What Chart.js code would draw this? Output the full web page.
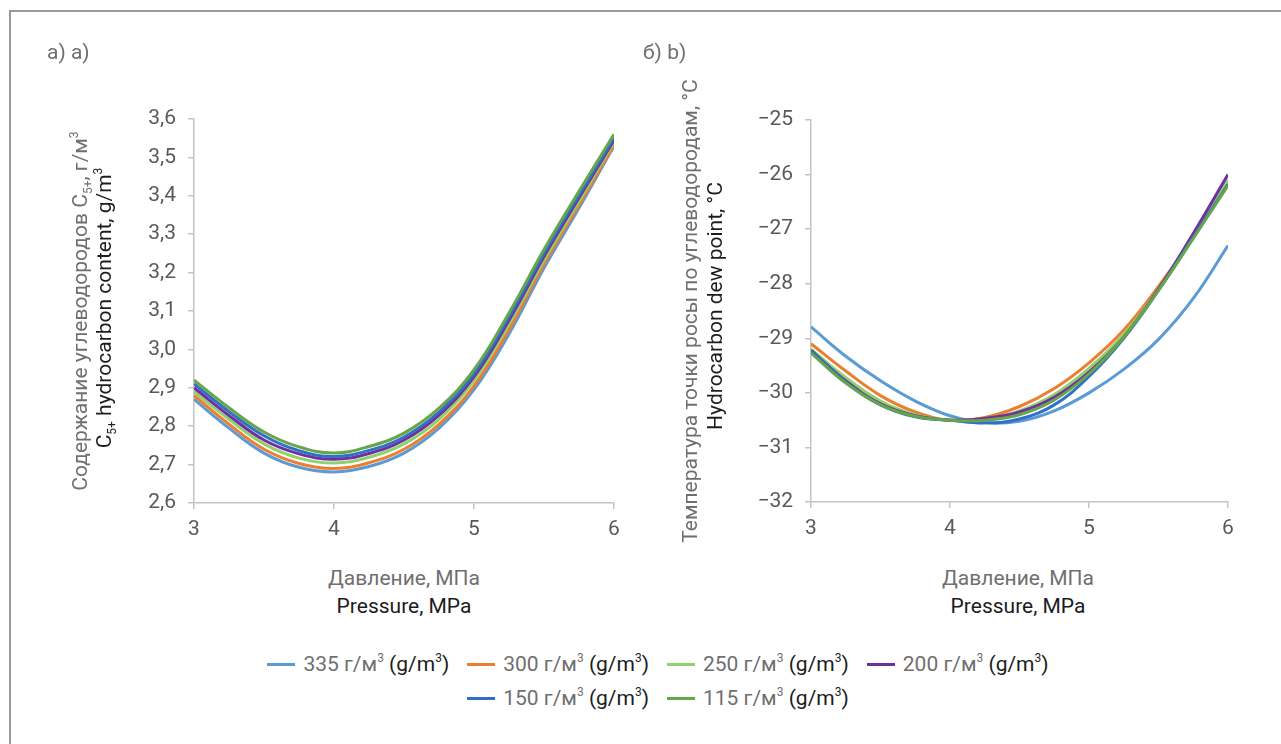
<!DOCTYPE html>
<html>
<head>
<meta charset="utf-8">
<script src="https://cdn.jsdelivr.net/npm/chart.js@4.4.1/dist/chart.umd.min.js"></script>
<style>
  html, body { margin: 0; padding: 0; background: #fff; }
  body { width: 1281px; height: 744px; position: relative; overflow: hidden; font-family: Roboto, sans-serif; font-size: 21px; }
  .frame { position: absolute; left: 9px; top: 10px; right: -5px; bottom: -5px; border-top: 2px solid #9a9a9a; border-left: 2px solid #9a9a9a; }
  canvas { position: absolute; top: 0; }
  .txt { position: absolute; white-space: nowrap; line-height: 1; }
  .g { color: #6f6f6f; }
  .k { color: #1c1c1c; }
  .rot { transform: translate(-50%, -50%) rotate(-90deg); }
  .hc { transform: translate(-50%, -50%); }
  sup, sub { font-size: 12px; line-height: 0; position: relative; vertical-align: baseline; }
  sup { top: -0.75em; }
  sub { top: 0.45em; }
  .legend-row { position: absolute; left: 0; width: 1316px; display: flex; justify-content: center; gap: 18px; white-space: nowrap; }
  .item { display: flex; align-items: center; }
  .sw { display: inline-block; width: 28px; height: 3px; margin-right: 8px; }
</style>
</head>
<body>
<div class="frame"></div>
<canvas id="contentChart" width="640" height="560" style="left:0"></canvas>
<canvas id="dewChart" width="641" height="560" style="left:640px"></canvas>

<div class="txt g" style="left:47px; top:42px">a) a)</div>
<div class="txt g" style="left:643px; top:42px">б) b)</div>

<div class="txt g rot" style="left:80px; top:311px">Содержание углеводородов C<sub>5+</sub>, г/м<sup>3</sup></div>
<div class="txt k rot" style="left:104px; top:308px">C<sub>5+</sub> hydrocarbon content, g/m<sup>3</sup></div>
<div class="txt g hc" style="left:404px; top:578px">Давление, МПа</div>
<div class="txt k hc" style="left:404px; top:606px">Pressure, MPa</div>

<div class="txt g rot" style="left:690px; top:311px">Температура точки росы по углеводородам, °C</div>
<div class="txt k rot" style="left:715px; top:306px">Hydrocarbon dew point, °C</div>
<div class="txt g hc" style="left:1018px; top:578px">Давление, МПа</div>
<div class="txt k hc" style="left:1018px; top:606px">Pressure, MPa</div>

<div class="legend-row" id="legendRow1" style="top:652px"></div>
<div class="legend-row" id="legendRow2" style="top:686px"></div>

<script>
// pressure grid, MPa
const pressure = [3, 3.25, 3.5, 3.75, 4, 4.25, 4.5, 4.75, 5, 5.25, 5.5, 5.75, 6];

// gas load labels, g/m3
const loads = ['335', '300', '250', '200', '150', '115'];
const colors = ['#5b9bd5', '#ed7d31', '#8fd16a', '#7030a0', '#3070c6', '#66a64a'];

// a) C5+ hydrocarbon content, g/m3
const content335 = [2.870, 2.795, 2.730, 2.693, 2.681, 2.695, 2.730, 2.795, 2.895, 3.040, 3.212, 3.368, 3.530];
const content300 = [2.880, 2.805, 2.740, 2.703, 2.690, 2.705, 2.740, 2.805, 2.905, 3.052, 3.222, 3.376, 3.532];
const content250 = [2.890, 2.818, 2.754, 2.717, 2.704, 2.719, 2.754, 2.818, 2.919, 3.066, 3.232, 3.386, 3.540];
const content200 = [2.900, 2.828, 2.764, 2.728, 2.714, 2.729, 2.764, 2.829, 2.929, 3.076, 3.242, 3.395, 3.545];
const content150 = [2.910, 2.838, 2.775, 2.736, 2.721, 2.737, 2.772, 2.837, 2.937, 3.085, 3.250, 3.402, 3.550];
const content115 = [2.920, 2.848, 2.785, 2.746, 2.730, 2.747, 2.782, 2.847, 2.947, 3.095, 3.260, 3.412, 3.560];

// b) hydrocarbon dew point, °C
const dew335 = [-28.79, -29.33, -29.78, -30.15, -30.42, -30.55, -30.52, -30.33, -30.00, -29.57, -29.02, -28.27, -27.30];
const dew300 = [-29.10, -29.60, -30.05, -30.35, -30.50, -30.45, -30.25, -29.92, -29.45, -28.85, -28.05, -27.15, -26.15];
const dew250 = [-29.20, -29.72, -30.15, -30.40, -30.50, -30.48, -30.33, -30.03, -29.55, -28.93, -28.10, -27.15, -26.10];
const dew200 = [-29.22, -29.78, -30.20, -30.42, -30.50, -30.47, -30.35, -30.08, -29.62, -28.98, -28.10, -27.08, -26.00];
const dew150 = [-29.22, -29.80, -30.22, -30.44, -30.50, -30.55, -30.48, -30.22, -29.70, -29.00, -28.12, -27.15, -26.18];
const dew115 = [-29.27, -29.82, -30.22, -30.43, -30.50, -30.50, -30.40, -30.13, -29.65, -28.98, -28.12, -27.17, -26.20];

const contentSeries = [content335, content300, content250, content200, content150, content115];
const dewSeries = [dew335, dew300, dew250, dew200, dew150, dew115];

Chart.defaults.font.family = 'Roboto, sans-serif';
Chart.defaults.font.size = 21;
Chart.defaults.color = '#595959';

function makeDatasets(series) {
    return series.map((vals, i) => ({
        label: loads[i],
        data: vals.map((v, j) => ({ x: pressure[j], y: v })),
        borderColor: colors[i],
        borderWidth: 3,
        pointRadius: 0,
        fill: false,
        tension: 0.4,
        order: series.length - i
    }));
}

const axisGrid = { display: true, drawOnChartArea: false, drawTicks: true, tickLength: 6, color: '#c4c4c4', lineWidth: 1.5 };
const axisBorder = { display: true, color: '#c4c4c4', width: 1.5 };

function makeChart(id, series, yMin, yMax, yStep, yFormat, pad) {
    return new Chart(document.getElementById(id), {
        type: 'line',
        data: { datasets: makeDatasets(series) },
        options: {
            responsive: false,
            animation: false,
            layout: { padding: pad },
            plugins: { legend: { display: false }, tooltip: { enabled: false } },
            scales: {
                x: {
                    type: 'linear', min: 3, max: 6,
                    ticks: { stepSize: 1, padding: 8 },
                    grid: axisGrid, border: axisBorder,
                    afterFit: s => { s.height = 40; }
                },
                y: {
                    min: yMin, max: yMax,
                    ticks: { stepSize: yStep, padding: 12, callback: yFormat },
                    grid: axisGrid, border: axisBorder,
                    afterFit: s => { s.width = 70; }
                }
            }
        }
    });
}

makeChart('contentChart', contentSeries, 2.6, 3.6, 0.1,
    v => v.toFixed(1).replace('.', ','),
    { left: 124, right: 26, top: 119, bottom: 17 });

makeChart('dewChart', dewSeries, -32, -25, 1,
    v => (v < 0 ? '\u2212' : '') + Math.abs(Math.round(v)),
    { left: 101, right: 53, top: 120, bottom: 18 });

// legend rows built from the series labels
function legendItem(i) {
    const el = document.createElement('div');
    el.className = 'item';
    el.innerHTML = '<span class="sw" style="background:' + colors[i] + '"></span>' +
        '<span class="g">' + loads[i] + ' г/м<sup>3</sup></span>&nbsp;<span class="k">(g/m<sup>3</sup>)</span>';
    return el;
}
loads.forEach((l, i) => {
    document.getElementById(i < 4 ? 'legendRow1' : 'legendRow2').appendChild(legendItem(i));
});
</script>
</body>
</html>
